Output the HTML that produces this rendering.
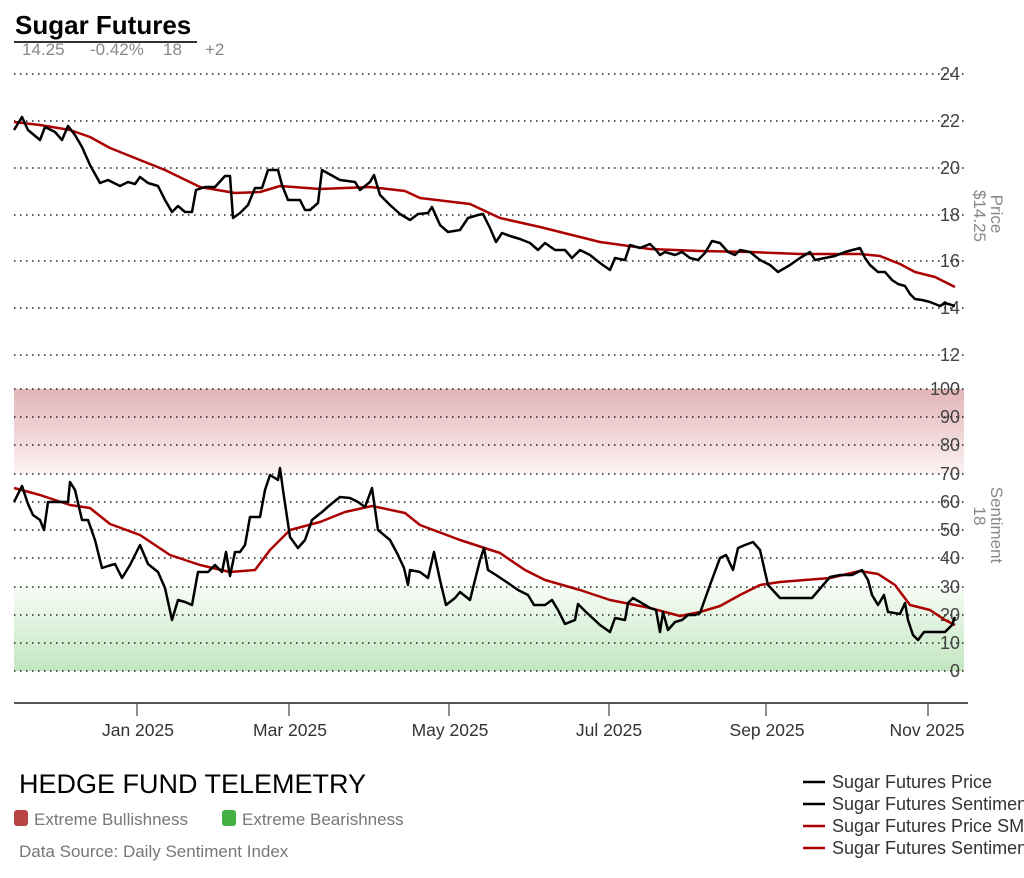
<!DOCTYPE html>
<html><head><meta charset="utf-8"><style>
html,body{margin:0;padding:0;background:#fff;}
svg{display:block;font-family:"Liberation Sans",sans-serif;}
</style></head><body>
<svg width="1024" height="878" viewBox="0 0 1024 878" xmlns="http://www.w3.org/2000/svg">
<defs>
<linearGradient id="rb" x1="0" y1="0" x2="0" y2="1"><stop offset="0" stop-color="#e2b4b8"/><stop offset="1" stop-color="#fdf3f3"/></linearGradient>
<linearGradient id="gb" x1="0" y1="0" x2="0" y2="1"><stop offset="0" stop-color="#f6fcf5"/><stop offset="1" stop-color="#c2e6c0"/></linearGradient>
</defs>
<text x="15" y="34" font-size="26" font-weight="bold" fill="#000">Sugar Futures</text>
<line x1="14" y1="42" x2="197" y2="42" stroke="#333" stroke-width="2"/>
<text x="22" y="55" font-size="17" fill="#888">14.25</text>
<text x="90" y="55" font-size="17" fill="#888">-0.42%</text>
<text x="163" y="55" font-size="17" fill="#888">18</text>
<text x="205" y="55" font-size="17" fill="#888">+2</text>
<rect x="14" y="389" width="950" height="85" fill="url(#rb)"/>
<rect x="14" y="587" width="950" height="84" fill="url(#gb)"/>
<g stroke="#222" stroke-width="1.5" stroke-dasharray="1.5,4.5">
<line x1="14" y1="74" x2="964" y2="74"/><line x1="14" y1="121" x2="964" y2="121"/><line x1="14" y1="168" x2="964" y2="168"/><line x1="14" y1="215" x2="964" y2="215"/><line x1="14" y1="261" x2="964" y2="261"/><line x1="14" y1="308" x2="964" y2="308"/><line x1="14" y1="355" x2="964" y2="355"/>
<line x1="14" y1="389" x2="964" y2="389"/><line x1="14" y1="417" x2="964" y2="417"/><line x1="14" y1="445" x2="964" y2="445"/><line x1="14" y1="474" x2="964" y2="474"/><line x1="14" y1="502" x2="964" y2="502"/><line x1="14" y1="530" x2="964" y2="530"/><line x1="14" y1="558" x2="964" y2="558"/><line x1="14" y1="587" x2="964" y2="587"/><line x1="14" y1="615" x2="964" y2="615"/><line x1="14" y1="643" x2="964" y2="643"/><line x1="14" y1="671" x2="964" y2="671"/>
</g>
<g font-size="18" fill="#444" text-anchor="end">
<text x="960" y="80">24</text><text x="960" y="127">22</text><text x="960" y="174">20</text><text x="960" y="221">18</text><text x="960" y="267">16</text><text x="960" y="314">14</text><text x="960" y="361">12</text>
<text x="960" y="395">100</text><text x="960" y="423">90</text><text x="960" y="451">80</text><text x="960" y="480">70</text><text x="960" y="508">60</text><text x="960" y="536">50</text><text x="960" y="564">40</text><text x="960" y="593">30</text><text x="960" y="621">20</text><text x="960" y="649">10</text><text x="960" y="677">0</text>
</g>
<g font-size="17" fill="#888" text-anchor="middle">
<text transform="translate(991,214) rotate(90)">Price</text>
<text transform="translate(974,216) rotate(90)">$14.25</text>
<text transform="translate(991,525) rotate(90)">Sentiment</text>
<text transform="translate(974,516) rotate(90)">18</text>
</g>
<g fill="none" stroke-width="2.5" stroke-linejoin="round">
<polyline stroke="#a00" points="14,122 40,125 70,130 90,137 110,148 140,160 165,170 200,187 235,193 260,192 280,186 320,189 370,187 405,191 420,198 470,204 500,218 540,227 600,242 650,249 700,251 750,252 800,254 860,254 880,256 900,264 915,272 935,277 955,287"/>
<polyline stroke="#000" points="14,130 22,117 28,130 40,140 45,127 55,132 62,140 68,126 75,135 82,147 90,165 100,183 108,180 120,186 128,182 135,184 140,177 148,183 158,186 165,200 172,212 178,206 185,212 192,212 196,190 205,187 215,187 225,176 230,176 233,218 240,213 248,205 255,188 262,188 268,170 278,170 282,185 288,200 300,200 305,210 310,210 318,203 322,170 340,180 355,182 360,190 370,182 374,175 380,195 390,205 400,214 410,220 418,214 428,213 432,207 440,225 448,232 460,230 468,218 478,215 483,214 490,228 496,242 502,233 510,236 520,239 530,243 538,250 545,243 555,250 565,250 572,258 580,250 590,255 600,263 610,270 615,258 625,260 630,245 640,248 650,244 656,250 660,255 665,252 675,255 682,252 690,258 698,260 705,253 712,241 720,243 728,252 735,255 740,250 750,252 760,260 770,265 778,272 790,265 800,258 810,252 815,260 825,258 835,256 845,252 860,248 865,258 870,265 878,272 885,272 892,280 898,284 905,286 910,294 915,299 922,300 930,302 940,306 945,303 955,306"/>
<polyline stroke="#a00" points="14,488 40,495 70,505 90,508 110,524 140,535 170,555 200,565 230,572 255,570 270,550 290,530 320,522 345,512 372,506 405,513 420,525 460,540 500,553 525,570 545,580 580,590 610,600 650,608 680,616 700,612 720,606 740,595 760,585 780,582 830,578 860,571 878,574 895,585 910,605 930,610 945,620 955,625"/>
<polyline stroke="#000" points="14,502 22,486 28,504 33,515 40,520 44,530 48,502 60,502 68,502 70,482 75,490 82,520 88,520 95,540 102,568 108,566 115,564 122,578 130,565 140,545 148,564 158,572 165,588 172,620 178,600 185,602 192,605 198,572 208,572 215,565 222,572 226,552 230,576 235,552 240,552 245,545 250,517 260,517 265,490 270,475 278,480 280,468 283,490 290,537 298,548 305,540 312,520 322,512 330,505 340,497 350,498 358,502 365,507 372,488 378,530 390,540 398,555 404,568 408,585 410,570 420,572 428,578 434,552 440,580 446,605 455,598 460,592 470,600 480,560 484,548 488,570 496,575 508,583 518,590 528,595 534,605 545,605 552,600 558,610 565,624 575,620 578,604 586,612 600,625 610,632 615,618 625,620 628,603 633,598 640,602 650,608 656,610 660,632 663,612 668,630 675,622 682,620 688,615 695,615 700,613 710,585 720,558 726,555 733,570 738,548 745,545 753,542 760,550 768,585 780,598 812,598 830,577 840,575 852,575 862,570 868,580 872,595 878,605 884,595 888,612 900,614 905,603 908,620 913,635 918,640 924,632 930,632 945,632 952,625 955,617"/>
</g>
<line x1="14" y1="703" x2="968" y2="703" stroke="#555" stroke-width="2"/>
<g stroke="#444" stroke-width="1.2">
<line x1="137" y1="703" x2="137" y2="716"/><line x1="289" y1="703" x2="289" y2="716"/><line x1="449" y1="703" x2="449" y2="716"/><line x1="609" y1="703" x2="609" y2="716"/><line x1="766" y1="703" x2="766" y2="716"/><line x1="928" y1="703" x2="928" y2="716"/>
</g>
<g font-size="17.5" fill="#333" text-anchor="middle">
<text x="138" y="736">Jan 2025</text><text x="290" y="736">Mar 2025</text><text x="450" y="736">May 2025</text><text x="609" y="736">Jul 2025</text><text x="767" y="736">Sep 2025</text><text x="927" y="736">Nov 2025</text>
</g>
<text x="19" y="793" font-size="27" fill="#000">HEDGE FUND TELEMETRY</text>
<rect x="14" y="810" width="14" height="16" rx="3" fill="#b84444"/>
<text x="34" y="825" font-size="17" fill="#777">Extreme Bullishness</text>
<rect x="222" y="810" width="14" height="16" rx="3" fill="#44b044"/>
<text x="242" y="825" font-size="17" fill="#777">Extreme Bearishness</text>
<text x="19" y="857" font-size="17" fill="#777">Data Source: Daily Sentiment Index</text>
<g stroke-width="2.5">
<line x1="803" y1="782" x2="825" y2="782" stroke="#000"/>
<line x1="803" y1="804" x2="825" y2="804" stroke="#000"/>
<line x1="803" y1="826" x2="825" y2="826" stroke="#a00"/>
<line x1="803" y1="848" x2="825" y2="848" stroke="#a00"/>
</g>
<g font-size="18" fill="#333">
<text x="832" y="788">Sugar Futures Price</text>
<text x="832" y="810">Sugar Futures Sentiment</text>
<text x="832" y="832">Sugar Futures Price SMA</text>
<text x="832" y="854">Sugar Futures Sentiment SMA</text>
</g>
</svg>
</body></html>
